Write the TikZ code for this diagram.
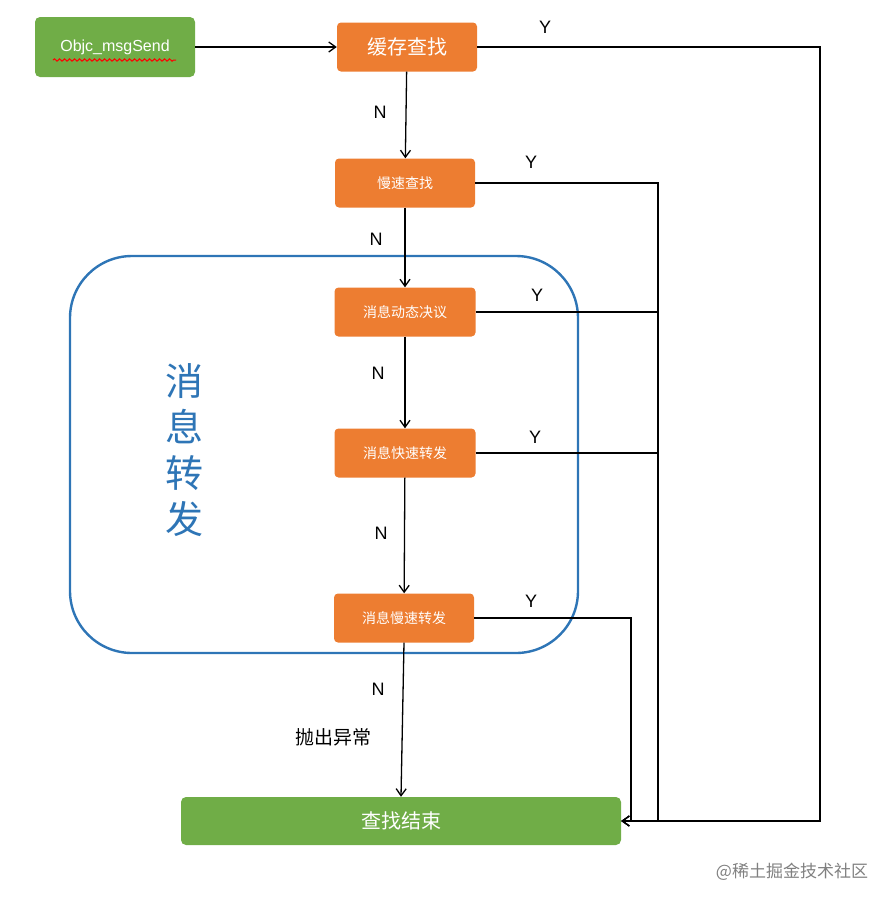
\documentclass[tikz,border=0pt]{standalone}
\usepackage{fontspec}
\setmainfont{Liberation Sans}
\newfontfamily\cjk{Noto Sans CJK SC}
\usetikzlibrary{arrows.meta,decorations.pathmorphing}
\definecolor{boxgreen}{HTML}{70AD47}
\definecolor{boxorange}{HTML}{ED7D31}
\definecolor{frameblue}{HTML}{2E75B6}

\begin{document}
\begin{tikzpicture}[
                x=1pt, y=-1pt,
                stage/.style={fill=boxorange, rounded corners=4pt, minimum width=140pt, minimum height=49pt, text=white, font=\cjk\fontsize{14}{16}\selectfont},
                done/.style={fill=boxgreen, rounded corners=5pt, text=white},
                lbl/.style={font=\fontsize{18}{20}\selectfont},
                flow/.style={line width=1.3pt, -{Straight Barb[length=7pt,width=10pt]}}
            ]

            \useasboundingbox (0,0) rectangle (896,906);

            % frame around the forwarding part
            \draw[frameblue, line width=2.4pt, rounded corners=62pt] (70,256) rectangle (578,653);
            \node[frameblue, font=\cjk\fontsize{38}{46}\selectfont, align=center] (title) at (184,450) {消\\息\\转\\发};

            \node[done, minimum width=160pt, minimum height=60pt, font=\fontsize{16}{18}\selectfont] (msg) at (115,47) {Objc\_msgSend};
            \draw[red, line width=1pt, decorate, decoration={snake, amplitude=1.2pt, segment length=5pt}]
                (53,60) -- (176,60);

            \node[stage, font=\cjk\fontsize{20}{22}\selectfont] (cache) at (407,47) {缓存查找};
            \node[stage] (slow) at (405,183) {慢速查找};
            \node[stage, minimum width=141pt] (dyn) at (405,312) {消息动态决议};
            \node[stage, minimum width=141pt] (fast) at (405,453) {消息快速转发};
            \node[stage] (slowfwd) at (404,618) {消息慢速转发};
            \node[done, minimum width=440pt, minimum height=48pt, font=\cjk\fontsize{20}{22}\selectfont] (end) at (401,821) {查找结束};

            \coordinate (c1) at (820,47);
            \coordinate (c2) at (658,183);
            \coordinate (c3) at (658,312);
            \coordinate (c4) at (658,453);
            \coordinate (c5) at (631,618);

            % N branch
            \draw[flow] (msg) -- (cache);
            \draw[flow] (cache) -- (slow);
            \draw[flow] (slow) -- (dyn);
            \draw[flow] (dyn) -- (fast);
            \draw[flow] (fast) -- (slowfwd);
            \draw[flow] (slowfwd.south) -- (end.north);

            % Y branch
            \draw[flow] (cache) -- (c1) |- (end.east);
            \draw[flow] (slow) -- (c2) |- (end.east);
            \draw[line width=1.3pt] (dyn) -- (c3);
            \draw[line width=1.3pt] (fast) -- (c4);
            \draw[flow] (slowfwd) -- (c5) |- (end.east);

            \node[lbl] (y1) at (545,27) {Y};
            \node[lbl] (n1) at (380,112) {N};
            \node[lbl] (y2) at (531,162) {Y};
            \node[lbl] (n2) at (376,239) {N};
            \node[lbl] (y3) at (537,295) {Y};
            \node[lbl] (n3) at (378,373) {N};
            \node[lbl] (y4) at (535,437) {Y};
            \node[lbl] (n4) at (381,533) {N};
            \node[lbl] (y5) at (531,601) {Y};
            \node[lbl] (n5) at (378,689) {N};
            \node[font=\cjk\fontsize{19}{21}\selectfont] (throw) at (333,737) {抛出异常};

            \node[gray, font=\cjk\fontsize{17}{19}\selectfont] (mark) at (792,872) {@稀土掘金技术社区};

\end{tikzpicture}
\end{document}
